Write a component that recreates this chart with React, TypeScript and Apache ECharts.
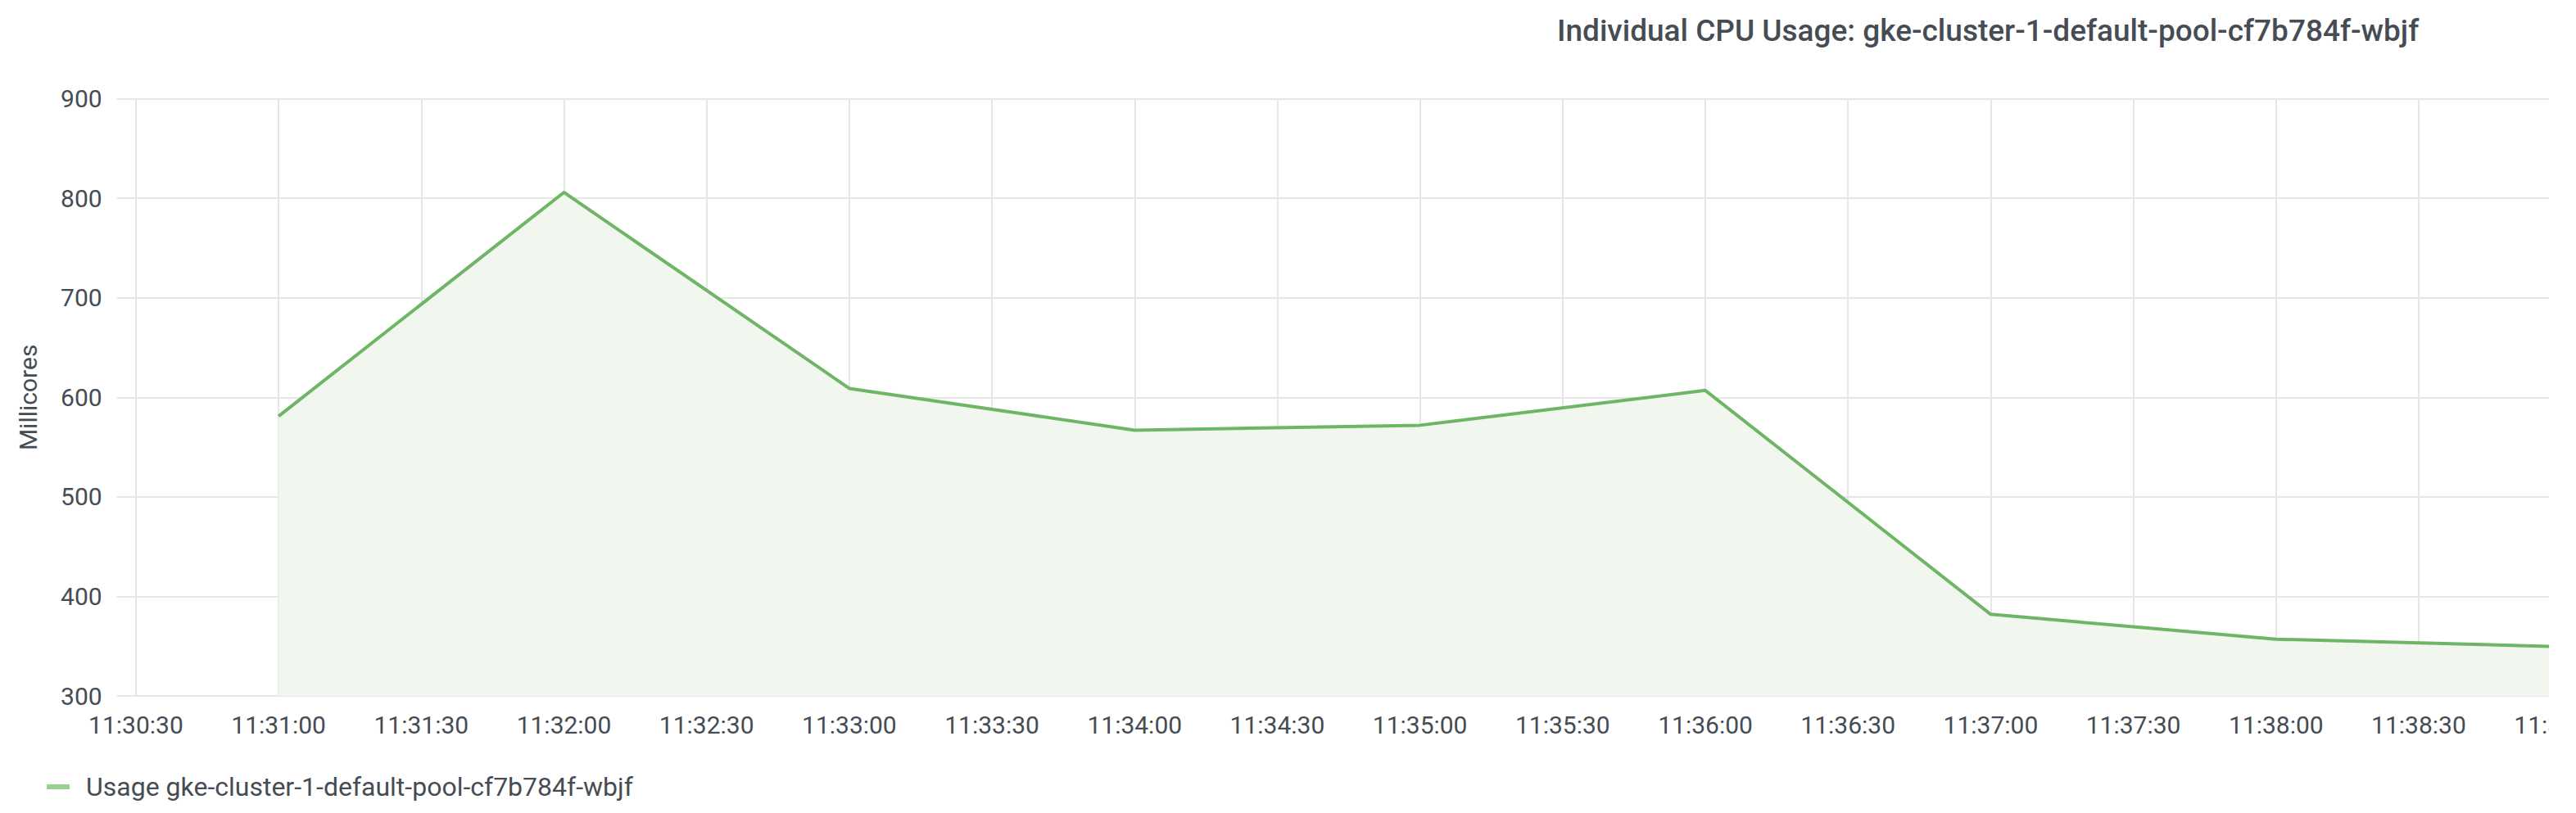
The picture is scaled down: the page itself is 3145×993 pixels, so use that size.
import React, { useEffect, useRef } from "react";
import * as echarts from "echarts";

const TITLE = "Individual CPU Usage: gke-cluster-1-default-pool-cf7b784f-wbjf";
const SERIES_NAME = "Usage gke-cluster-1-default-pool-cf7b784f-wbjf";
const Y_NAME = "Millicores";

// sample timestamps and values (millicores)
const sampleTimes = [
  "11:31:00",
  "11:32:00",
  "11:33:00",
  "11:34:00",
  "11:35:00",
  "11:36:00",
  "11:37:00",
  "11:38:00",
  "11:39:00",
];
const usageMillicores = [581, 806, 609, 567, 572, 607, 382, 357, 349.5];

// x axis tick labels
const xTickLabels = [
  "11:30:30",
  "11:31:00",
  "11:31:30",
  "11:32:00",
  "11:32:30",
  "11:33:00",
  "11:33:30",
  "11:34:00",
  "11:34:30",
  "11:35:00",
  "11:35:30",
  "11:36:00",
  "11:36:30",
  "11:37:00",
  "11:37:30",
  "11:38:00",
  "11:38:30",
  "11:39:00",
];
const xRangeStart = "11:30:26";
const xRangeEnd = "11:39:30";

const yMin = 300;
const yMax = 900;
const yStep = 100;

const toSec = (s: string) => {
  const [h, m, sec] = s.split(":").map(Number);
  return h * 3600 + m * 60 + sec;
};
const pad = (n: number) => String(n).padStart(2, "0");
const fmt = (v: number) => {
  const t = Math.round(v);
  const h = Math.floor(t / 3600);
  const m = Math.floor((t % 3600) / 60);
  const s = t % 60;
  return `${pad(h)}:${pad(m)}:${pad(s)}`;
};

const FONT = "Roboto";
const TEXT = "#464c54";
const GRID = "#e6e6e6";
const LINE = "#6fb566";
const FILL = "#f1f7ef";

export default function App() {
  const ref = useRef<HTMLDivElement>(null);
  useEffect(() => {
    if (!ref.current) return;
    const chart = echarts.init(ref.current, undefined, { renderer: "svg" });
    const tickVals = xTickLabels.map(toSec);
    const xMin = toSec(xRangeStart);
    const xMax = toSec(xRangeEnd);
    const pxPer30 = 174.19;
    const gridWidth = ((xMax - xMin) / 30) * pxPer30;
    chart.setOption({
      animation: false,
      title: {
        text: TITLE,
        left: 1896,
        top: 14,
        textStyle: {
          fontFamily: FONT,
          fontSize: 37,
          fontWeight: 500,
          color: TEXT,
        },
      },
      grid: {
        left: 142.7,
        top: 120.7,
        width: gridWidth,
        height: 729.3,
        containLabel: false,
      },
      xAxis: {
        type: "value",
        min: xMin,
        max: xMax,
        axisLine: { show: false },
        axisTick: { show: false, customValues: tickVals },
        axisLabel: {
          customValues: tickVals,
          formatter: (v: number) => fmt(v),
          fontFamily: FONT,
          fontSize: 30,
          color: TEXT,
          margin: 20,
          hideOverlap: false,
        },
        splitLine: { show: true, lineStyle: { color: GRID, width: 2 } },
      },
      yAxis: {
        type: "value",
        min: yMin,
        max: yMax,
        interval: yStep,
        name: Y_NAME,
        nameLocation: "middle",
        nameGap: 93,
        nameTextStyle: { fontFamily: FONT, fontSize: 30, color: TEXT },
        axisLine: { show: false },
        axisTick: { show: false },
        axisLabel: {
          fontFamily: FONT,
          fontSize: 30,
          color: TEXT,
          margin: 18,
        },
        splitLine: { show: true, lineStyle: { color: GRID, width: 2 } },
      },
      legend: {
        left: 52,
        top: 940,
        icon: "rect",
        itemWidth: 28,
        itemHeight: 6,
        textStyle: {
          fontFamily: FONT,
          fontSize: 32,
          color: TEXT,
          padding: [0, 0, 0, 15],
        },
        data: [{ name: SERIES_NAME, itemStyle: { color: "#98d08f" } }],
      },
      series: [
        {
          type: "line",
          name: SERIES_NAME,
          data: sampleTimes.map((t, i) => [toSec(t), usageMillicores[i]]),
          symbol: "none",
          lineStyle: { color: LINE, width: 4 },
          itemStyle: { color: LINE },
          areaStyle: { color: FILL, opacity: 1, origin: "start" },
        },
      ],
    });
    return () => chart.dispose();
  }, []);
  return (
    <div
      style={{
        position: "absolute",
        left: 0,
        top: 0,
        width: 3112,
        height: 993,
        overflow: "hidden",
        background: "#fff",
      }}
    >
      <div ref={ref} style={{ width: 3305, height: 993 }} />
    </div>
  );
}
